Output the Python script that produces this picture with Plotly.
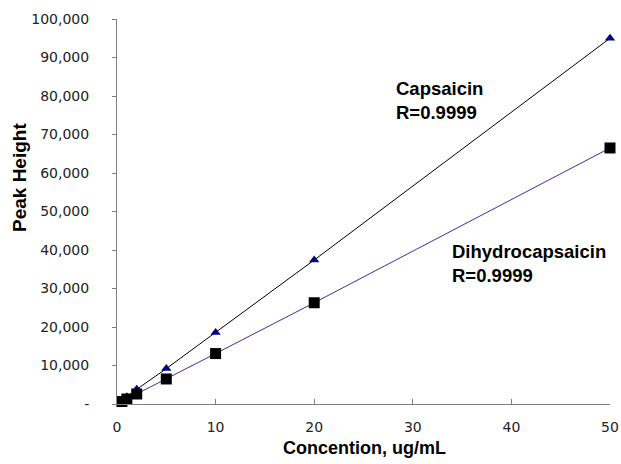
import plotly.graph_objects as go

conc = [0.5, 1, 2, 5, 10, 20, 50]
capsaicin = [950, 1900, 3800, 9200, 18600, 37400, 95000]
dihydro = [650, 1300, 2600, 6500, 13100, 26300, 66500]

x_ticks = [0, 10, 20, 30, 40, 50]
y_ticks = [0, 10000, 20000, 30000, 40000, 50000, 60000, 70000, 80000, 90000, 100000]
y_labels = ["-"] + [f"{v:,}" for v in y_ticks[1:]]

W, H = 621, 464
L, R, T, B = 117, 11, 19, 60
pw, ph = W - L - R, H - T - B

fig = go.Figure()
fig.add_trace(go.Scatter(
    x=conc, y=capsaicin, mode="lines+markers", name="Capsaicin",
    line=dict(color="#000000", width=1),
    marker=dict(symbol="triangle-up", size=9, color="#000080"),
    cliponaxis=False,
))
fig.add_trace(go.Scatter(
    x=conc, y=dihydro, mode="lines+markers", name="Dihydrocapsaicin",
    line=dict(color="#3333aa", width=1),
    marker=dict(symbol="square", size=11, color="#000000"),
    cliponaxis=False,
))

fig.update_layout(
    width=W, height=H,
    margin=dict(l=L, r=R, t=T, b=B, autoexpand=False),
    plot_bgcolor="white", paper_bgcolor="white",
    showlegend=False,
    font=dict(family="DejaVu Sans, sans-serif", color="#000000"),
)
fig.update_xaxes(
    range=[0, 50], tickvals=x_ticks, showgrid=False, zeroline=False,
    showline=True, linecolor="#808080", linewidth=1,
    ticks="inside", ticklen=5, tickcolor="#808080",
    tickfont=dict(size=14, color="#222222"), ticklabelstandoff=10,
    automargin=False,
)
fig.update_yaxes(
    range=[0, 100000], tickvals=y_ticks, ticktext=y_labels, showgrid=False, zeroline=False,
    showline=True, linecolor="#808080", linewidth=1,
    ticks="outside", ticklen=4, tickcolor="#808080",
    tickfont=dict(size=14, color="#222222"), ticklabelstandoff=20,
    automargin=False,
)
bold = "Liberation Sans, Arial, sans-serif"
fig.add_annotation(x=(19 - L) / pw, y=(H - B - 178) / ph, xref="paper", yref="paper",
                   xanchor="center", yanchor="middle", text="<b>Peak Height</b>",
                   showarrow=False, textangle=-90, font=dict(family=bold, size=19))
fig.add_annotation(x=(364 - L) / pw, y=(H - B - 448) / ph, xref="paper", yref="paper",
                   xanchor="center", yanchor="middle", text="<b>Concention, ug/mL</b>",
                   showarrow=False, font=dict(family=bold, size=18))
fig.add_annotation(x=(394 - L) / pw, y=(H - B - 76) / ph, xref="paper", yref="paper",
                   xanchor="left", yanchor="top",
                   text="<b>Capsaicin<br>R=0.9999</b>", showarrow=False, align="left",
                   font=dict(family=bold, size=18.5))
fig.add_annotation(x=(450 - L) / pw, y=(H - B - 239) / ph, xref="paper", yref="paper",
                   xanchor="left", yanchor="top",
                   text="<b>Dihydrocapsaicin<br>R=0.9999</b>", showarrow=False, align="left",
                   font=dict(family=bold, size=18.5))
fig.write_html("out.html", config={"displayModeBar": False},
               post_script="document.body.style.margin='0';")
